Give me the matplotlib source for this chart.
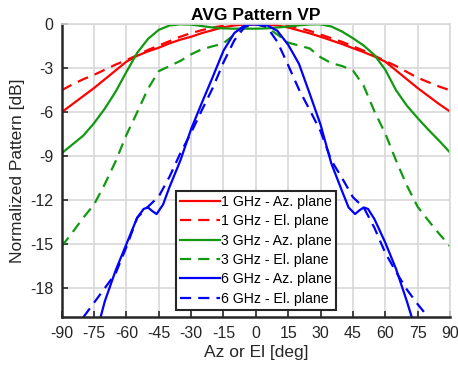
import numpy as np
import matplotlib
matplotlib.use("Agg")
import matplotlib.pyplot as plt

plt.rcParams['font.family'] = ['Liberation Sans', 'DejaVu Sans']
plt.rcParams['axes.unicode_minus'] = False

# angles [deg]
ang_wide = [-90, -85, -80, -75, -70, -65, -60, -55, -50, -45, -40, -35, -30, -25, -20, -15, -10, -5,
            0, 5, 10, 15, 20, 25, 30, 35, 40, 45, 50, 55, 60, 65, 70, 75, 80, 85, 90]

# 1 GHz
red_az = [-6.0, -5.45, -4.9, -4.35, -3.75, -3.15, -2.55, -2.15, -1.85, -1.6, -1.3, -1.05, -0.85, -0.6, -0.4, -0.2, -0.08, -0.02,
          0.0, -0.02, -0.08, -0.22, -0.42, -0.62, -0.85, -1.1, -1.35, -1.63, -1.9, -2.2, -2.55, -3.15, -3.75, -4.35, -4.9, -5.45, -5.95]
red_el = [-4.5, -4.1, -3.75, -3.45, -3.1, -2.75, -2.45, -2.1, -1.75, -1.45, -1.15, -0.85, -0.6, -0.4, -0.22, -0.1, -0.04, -0.01,
          0.0, -0.01, -0.04, -0.1, -0.25, -0.45, -0.7, -0.95, -1.2, -1.5, -1.8, -2.15, -2.5, -2.85, -3.25, -3.65, -3.95, -4.25, -4.5]

# 3 GHz
green_az = [-8.8, -8.2, -7.6, -6.75, -5.75, -4.6, -3.25, -1.95, -1.0, -0.38, -0.08, 0.0, -0.02, -0.12, -0.22, -0.28, -0.3, -0.3,
            -0.3, -0.28, -0.22, -0.15, -0.07, -0.01, 0.0, -0.15, -0.5, -0.95, -1.45, -2.1, -3.1, -4.5, -5.55, -6.4, -7.2, -7.95, -8.75]
green_el = [-15.15, -14.2, -13.2, -12.3, -10.9, -9.35, -7.55, -6.0, -4.4, -3.2, -2.85, -2.5, -2.05, -1.7, -1.5, -1.3, -0.7, -0.2,
            0.0, -0.2, -0.7, -1.25, -1.45, -1.65, -2.25, -2.65, -2.85, -3.15, -4.2, -5.95, -7.45, -9.3, -11.0, -12.45, -13.4, -14.3, -15.15]

# 6 GHz
ang_blue_az = [-72, -70, -65, -60, -55, -52, -50, -48, -46, -43, -40, -35, -30, -25, -20, -15, -10, -5,
               0, 5, 10, 15, 20, 25, 30, 35, 40, 43, 46, 48, 50, 52, 55, 60, 65, 70, 72.3]
blue_az = [-20.0, -18.9, -16.8, -15.0, -13.2, -12.6, -12.5, -12.75, -12.95, -12.3, -11.1, -9.3, -7.15, -5.35, -3.6, -1.8, -0.6, -0.05,
           0.0, -0.05, -0.45, -1.4, -2.7, -4.75, -6.85, -9.5, -11.4, -12.5, -12.95, -12.7, -12.5, -12.6, -13.3, -14.9, -16.7, -18.9, -20.0]
ang_blue_el = [-80, -75, -70, -65, -60, -55, -50, -45, -40, -35, -30, -25, -20, -15, -10, -5,
               0, 5, 10, 15, 20, 25, 30, 35, 40, 45, 50, 55, 60, 65, 70, 75, 80]
blue_el = [-20.0, -19.0, -18.0, -17.0, -15.2, -13.2, -12.45, -11.75, -10.4, -8.8, -7.4, -5.85, -4.35, -2.6, -1.1, -0.15,
           0.0, -0.15, -1.2, -2.8, -4.45, -5.85, -7.3, -9.3, -10.5, -11.8, -12.5, -13.9, -15.6, -16.9, -18.1, -19.1, -20.0]

RED = '#ff0000'
GREEN = '#119a11'
BLUE = '#0000ff'
lw = 1.6
dash = (0, (5, 3.2))

fig = plt.figure(figsize=(4.58, 3.76), dpi=100)
ax = fig.add_axes([0.1347, 0.156, 0.8478, 0.7794])

ax.plot(ang_wide, red_az, color=RED, lw=lw, label='1 GHz - Az. plane')
ax.plot(ang_wide, red_el, color=RED, lw=lw, ls=dash, label='1 GHz - El. plane')
ax.plot(ang_wide, green_az, color=GREEN, lw=lw, label='3 GHz - Az. plane')
ax.plot(ang_wide, green_el, color=GREEN, lw=lw, ls=dash, label='3 GHz - El. plane')
ax.plot(ang_blue_az, blue_az, color=BLUE, lw=lw, label='6 GHz - Az. plane')
ax.plot(ang_blue_el, blue_el, color=BLUE, lw=lw, ls=dash, label='6 GHz - El. plane')

ax.set_xlim(-90, 90)
ax.set_ylim(-20, 0)
ax.set_xticks(np.arange(-90, 91, 15))
ax.set_yticks(np.arange(-18, 1, 3))
ax.grid(True, color='#d8d8d8', lw=1.2)
ax.set_axisbelow(True)

for s in ['top', 'right']:
    ax.spines[s].set_color('#d8d8d8')
    ax.spines[s].set_linewidth(1.2)
for s in ['left', 'bottom']:
    ax.spines[s].set_color('#262626')
    ax.spines[s].set_linewidth(1.8)
ax.tick_params(direction='in', length=4, width=1.2, labelsize=11.5, colors='#262626', pad=6)

ax.set_title('AVG Pattern VP', fontsize=12.5, fontweight='bold', pad=3)
ax.set_xlabel('Az or El [deg]', fontsize=12.5, color='#262626', labelpad=3)
ax.set_ylabel('Normalized Pattern [dB]', fontsize=12.5, color='#262626')

leg = ax.legend(loc='lower left', bbox_to_anchor=(0.294, 0.025), fontsize=10.2,
                handlelength=2.8, handletextpad=0.1, labelspacing=0.38,
                borderpad=0.3, borderaxespad=0, fancybox=False, framealpha=1)
leg.get_frame().set_edgecolor('#262626')
leg.get_frame().set_linewidth(1.5)

fig.savefig('out.png', dpi=100)
